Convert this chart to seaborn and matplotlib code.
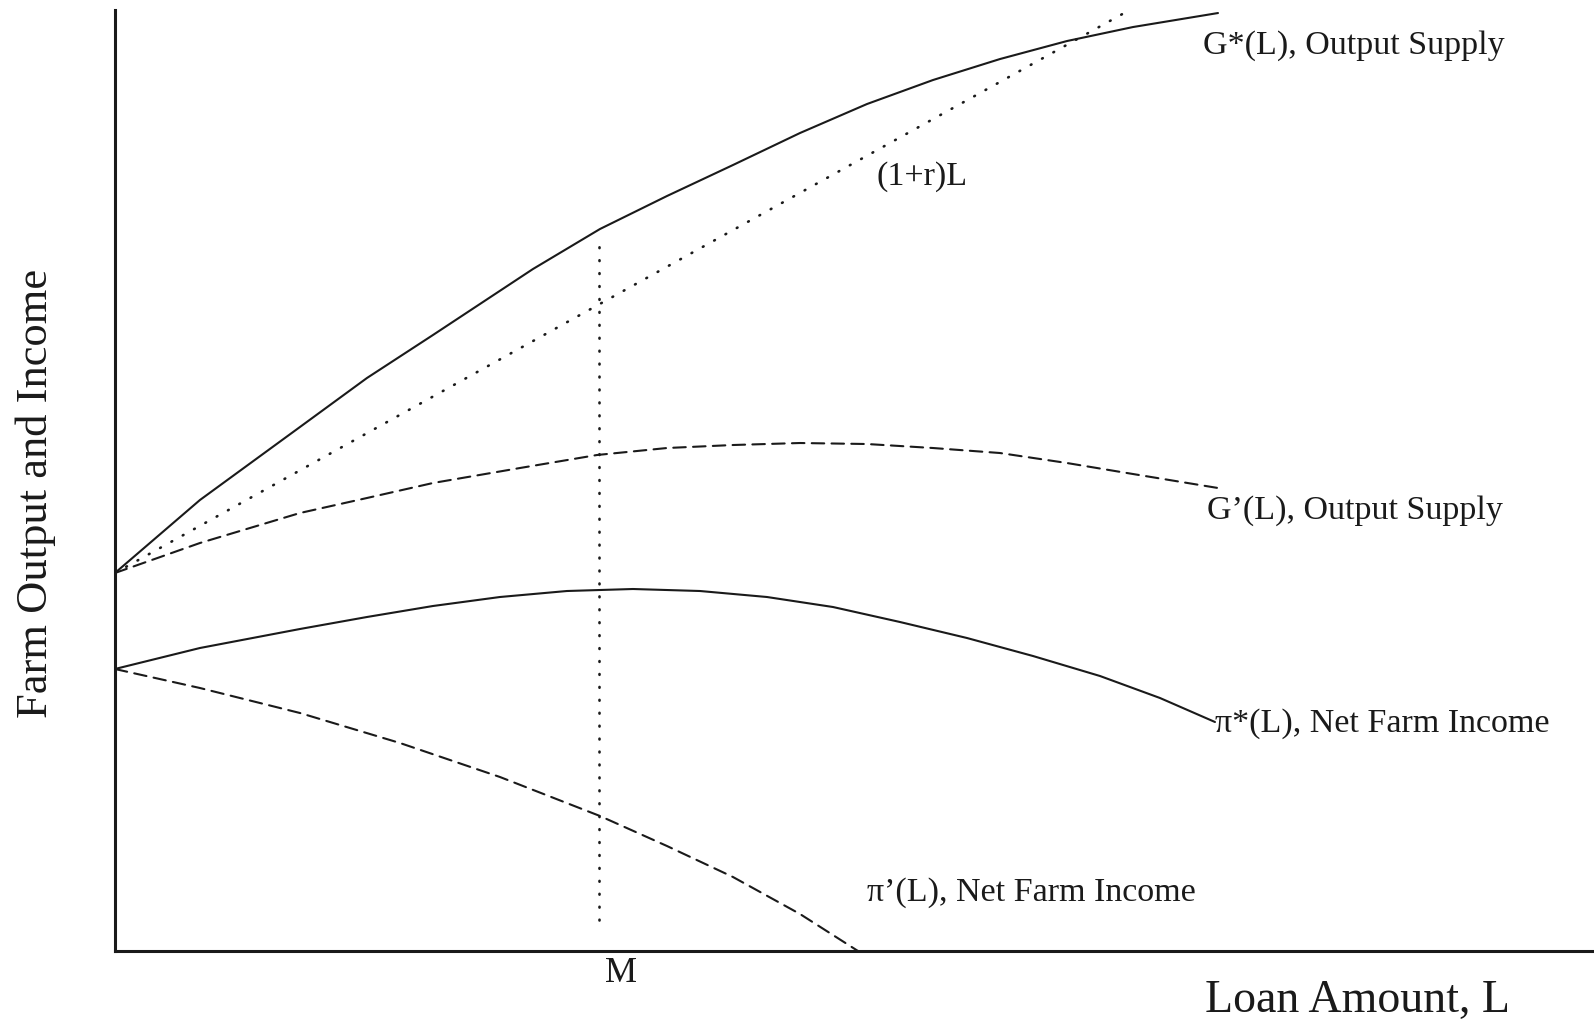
import numpy as np
import pandas as pd
import seaborn as sns
import matplotlib.pyplot as plt

# Values (x = loan amount, y = output / income, arbitrary units)
gstar_x = [0.0, 0.85, 1.85, 2.52, 3.18, 4.18, 4.85, 5.52, 6.18, 6.85, 7.52, 8.18, 8.85, 9.52, 10.18, 11.03]
gstar_y = [3.78, 4.51, 5.24, 5.73, 6.16, 6.82, 7.22, 7.55, 7.86, 8.18, 8.47, 8.71, 8.92, 9.10, 9.24, 9.38]

cost_x = [0.0, 10.11]
cost_y = [3.78, 9.39]

gprime_x = [0.0, 0.85, 1.85, 2.52, 3.18, 4.05, 4.82, 5.52, 6.18, 6.85, 7.52, 8.18, 8.85, 9.52, 10.18, 11.03]
gprime_y = [3.78, 4.08, 4.38, 4.53, 4.68, 4.83, 4.96, 5.03, 5.06, 5.08, 5.07, 5.03, 4.98, 4.88, 4.77, 4.63]

pistar_x = [0.0, 0.85, 1.85, 2.52, 3.18, 3.85, 4.52, 5.18, 5.85, 6.52, 7.18, 7.85, 8.52, 9.18, 9.85, 10.45, 11.0]
pistar_y = [2.82, 3.03, 3.22, 3.34, 3.45, 3.54, 3.60, 3.62, 3.60, 3.54, 3.44, 3.29, 3.13, 2.95, 2.75, 2.53, 2.29]

piprime_x = [0.0, 0.85, 1.85, 2.85, 3.85, 4.85, 5.52, 6.18, 6.85, 7.43]
piprime_y = [2.82, 2.63, 2.38, 2.08, 1.74, 1.35, 1.05, 0.74, 0.37, 0.0]

m_x = [4.84, 4.84]
m_y = [0.31, 7.11]

sns.set_style('white')
plt.rcParams['font.family'] = ['Liberation Serif', 'DejaVu Serif']

ink = '#1a1a1a'
fig = plt.figure(figsize=(15.94, 10.24), dpi=100)
ax = fig.add_axes([0.0721, 0.0713, 0.9279, 0.9189])

dotted = (0, (0.3, 4.6))
dashed = (0, (6, 3.5))
curves = [
    (gstar_x, gstar_y, '-', 1.5),
    (cost_x, cost_y, dotted, 1.9),
    (gprime_x, gprime_y, dashed, 1.5),
    (pistar_x, pistar_y, '-', 1.5),
    (piprime_x, piprime_y, dashed, 1.5),
    (m_x, m_y, dotted, 1.9),
]
for xs, ys, ls, w in curves:
    df = pd.DataFrame({'L': xs, 'v': ys})
    sns.lineplot(data=df, x='L', y='v', ax=ax, color=ink, lw=w,
                 linestyle=ls, dash_capstyle='round', sort=False, estimator=None)

ax.set_xlim(0, 14.79)
ax.set_ylim(0, 9.41)
ax.set_xticks([])
ax.set_yticks([])
ax.set_xlabel('')
ax.set_ylabel('')
for side in ['top', 'right']:
    ax.spines[side].set_visible(False)
for side in ['left', 'bottom']:
    ax.spines[side].set_linewidth(2.2)
    ax.spines[side].set_color(ink)

lab = dict(color=ink, fontsize=24.5, va='center', ha='left', clip_on=False)
ax.text(10.88, 9.05, 'G*(L), Output Supply', **lab)
ax.text(7.62, 7.74, '(1+r)L', **lab)
ax.text(10.92, 4.40, 'G\u2019(L), Output Supply', **lab)
ax.text(11.0, 2.27, '\u03c0*(L), Net Farm Income', **lab)
ax.text(7.52, 0.58, '\u03c0\u2019(L), Net Farm Income', **lab)
ax.text(5.06, -0.23, 'M', color=ink, fontsize=26, ha='center', va='center', clip_on=False)
ax.text(10.9, -0.5, 'Loan Amount, L', color=ink, fontsize=33, ha='left', va='center', clip_on=False)
ax.text(-0.79, 4.58, 'Farm Output and Income', color=ink, fontsize=32, rotation=90,
        ha='center', va='center', clip_on=False)

fig.savefig('out.png', dpi=100, facecolor='white')
